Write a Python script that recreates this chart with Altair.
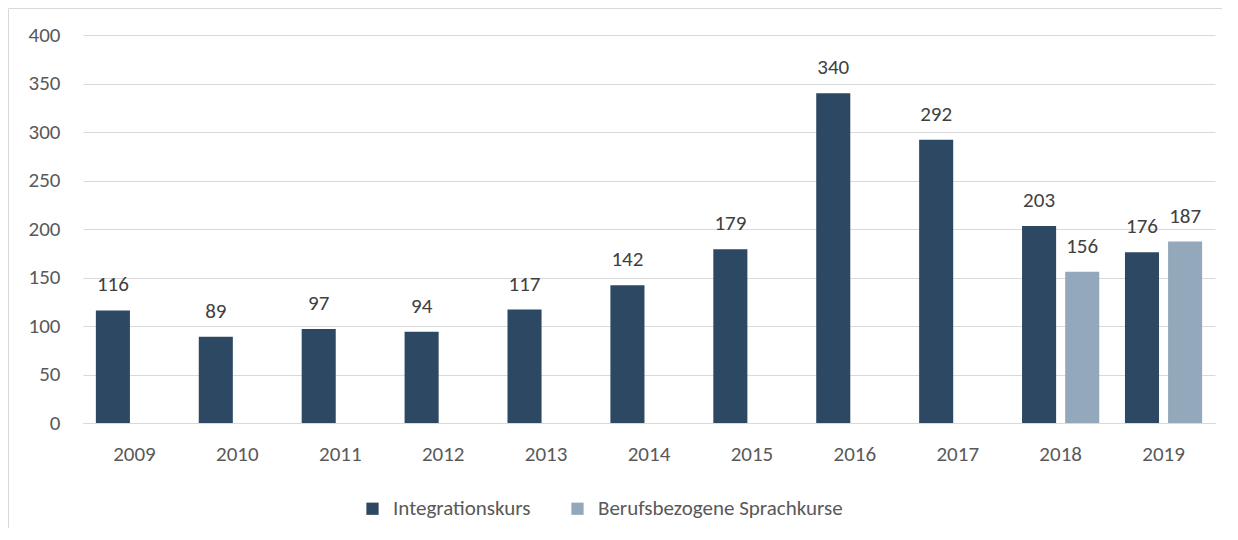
import altair as alt
import pandas as pd

years = ["2009", "2010", "2011", "2012", "2013", "2014", "2015", "2016", "2017", "2018", "2019"]
integrationskurs = [116, 89, 97, 94, 117, 142, 179, 340, 292, 203, 176]
berufsbezogen = [None, None, None, None, None, None, None, None, None, 156, 187]
series_names = ["Integrationskurs", "Berufsbezogene Sprachkurse"]
colors = ["#2D4862", "#94A8BB"]

rows = []
for y, a, b in zip(years, integrationskurs, berufsbezogen):
    if a is not None:
        rows.append({"Jahr": y, "Reihe": series_names[0], "Wert": a})
    if b is not None:
        rows.append({"Jahr": y, "Reihe": series_names[1], "Wert": b})
df = pd.DataFrame(rows)

FONT = "Carlito, Lato, sans-serif"
FS = 21

x_scale = alt.Scale(paddingInner=0.25, paddingOuter=0.125)
y_scale = alt.Scale(domain=[0, 400])
xoff = alt.XOffset("Reihe:N", sort=series_names, scale=alt.Scale(paddingInner=0.21, paddingOuter=0))

base = alt.Chart(df)

bars = base.mark_bar().encode(
    x=alt.X("Jahr:N", sort=years, title=None, scale=x_scale,
            axis=alt.Axis(labelAngle=0, ticks=False, domain=True, domainColor="#d9d9d9",
                          grid=False, labelPadding=20, labelFontSize=FS, labelColor="#595959",
                          labelFont=FONT)),
    xOffset=xoff,
    y=alt.Y("Wert:Q", title=None, scale=y_scale,
            axis=alt.Axis(values=[0, 50, 100, 150, 200, 250, 300, 350, 400], domain=False, ticks=False,
                          grid=True, gridColor="#d9d9d9", labelPadding=23, labelFontSize=FS,
                          labelColor="#595959", labelFont=FONT)),
    color=alt.Color("Reihe:N", sort=series_names,
                    scale=alt.Scale(domain=series_names, range=colors),
                    legend=alt.Legend(title=None, orient="none", direction="horizontal",
                                      legendX=279, legendY=463, symbolType="square",
                                      symbolSize=150, symbolStrokeWidth=0, labelFontSize=FS,
                                      labelColor="#595959", labelFont=FONT, labelOffset=10,
                                      columnPadding=36, labelLimit=500)),
)

labels = base.mark_text(baseline="alphabetic", dy=-19, fontSize=FS, color="#404040", font=FONT).encode(
    x=alt.X("Jahr:N", sort=years),
    xOffset=xoff,
    y=alt.Y("Wert:Q"),
    text=alt.Text("Wert:Q"),
)

frame = alt.Chart(pd.DataFrame({"f": [0]})).mark_rect(
    fill="transparent", stroke="#d9d9d9", strokeWidth=1).encode(
    x=alt.value(-74.5), x2=alt.value(1200), y=alt.value(-26.5), y2=alt.value(560))

chart = alt.layer(frame, bars, labels).properties(
    width=1132, height=388,
    autosize=alt.AutoSizeParams(type="none"),
    padding={"left": 75, "top": 27, "right": 7, "bottom": 105},
).configure(font=FONT).configure_view(
    stroke="transparent", strokeWidth=0
).configure_axisX(grid=False).configure_axisY(domain=False)

chart.save("out.html", embed_options={"renderer": "svg", "actions": False})
